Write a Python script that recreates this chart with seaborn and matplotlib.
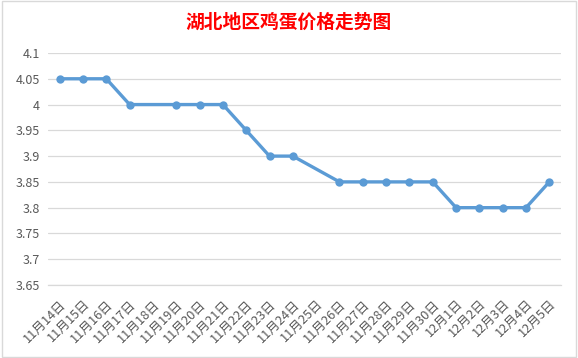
import numpy as np
import pandas as pd
import matplotlib
matplotlib.use("Agg")
import matplotlib.pyplot as plt
import seaborn as sns
from matplotlib.patches import Rectangle

dates = ["11月14日", "11月15日", "11月16日", "11月17日", "11月18日", "11月19日",
         "11月20日", "11月21日", "11月22日", "11月23日", "11月24日", "11月25日",
         "11月26日", "11月27日", "11月28日", "11月29日", "11月30日", "12月1日",
         "12月2日", "12月3日", "12月4日", "12月5日"]
prices = [4.05, 4.05, 4.05, 4.00, np.nan, 4.00, 4.00, 4.00, 3.95, 3.90, 3.90, np.nan,
          3.85, 3.85, 3.85, 3.85, 3.85, 3.80, 3.80, 3.80, 3.80, 3.85]
yticks = [3.65, 3.7, 3.75, 3.8, 3.85, 3.9, 3.95, 4.0, 4.05, 4.1]
ytick_labels = ["3.65", "3.7", "3.75", "3.8", "3.85", "3.9", "3.95", "4", "4.05", "4.1"]
title = "湖北地区鸡蛋价格走势图"

sns.set_style("white")
plt.rcParams['font.family'] = ['Noto Sans CJK SC', 'DejaVu Sans']

df = pd.DataFrame({"pos": np.arange(len(dates)), "price": prices}).dropna()

fig = plt.figure(figsize=(5.78, 3.58), dpi=100)
ax = fig.add_axes([48/578, 1-285/358, (561-48)/578, (285-53)/358])

for y in yticks:
    ax.axhline(y, color="#d9d9d9", lw=0.9, zorder=0)

sns.lineplot(data=df, x="pos", y="price", ax=ax, color="#5b9bd5", lw=2.4,
             marker="o", markersize=6, markeredgewidth=0, zorder=3)

ax.set_xlim(-0.5, len(dates) - 0.5)
ax.set_ylim(3.65, 4.1)
ax.set_yticks(yticks)
ax.set_yticklabels(ytick_labels)
ax.set_xticks(np.arange(len(dates)))
ax.set_xticklabels(dates, rotation=45, ha="right", rotation_mode="anchor")
ax.set_xticks(np.arange(len(dates) + 1) - 0.5, minor=True)
ax.tick_params(axis="x", which="major", length=0, labelsize=9.2, colors="#595959", pad=9)
ax.tick_params(axis="x", which="minor", length=4, color="#d9d9d9", width=0.9, direction="out")
ax.tick_params(axis="y", length=0, labelsize=9, colors="#595959", pad=6)
ax.set_xlabel("")
ax.set_ylabel("")
for s in ["top", "right", "left"]:
    ax.spines[s].set_visible(False)
ax.spines["bottom"].set_color("#d9d9d9")
ax.spines["bottom"].set_linewidth(0.9)
ax.spines["bottom"].set_zorder(1)

fig.text(0.5, 1-22/358, title, color="#ff0000", fontsize=13.5, fontweight="bold",
         ha="center", va="center")
fig.patches.append(Rectangle((0.003, 0.003), 0.994, 0.994, transform=fig.transFigure,
                             fill=False, edgecolor="#d9d9d9", lw=1))

fig.savefig("out.png", dpi=100)
